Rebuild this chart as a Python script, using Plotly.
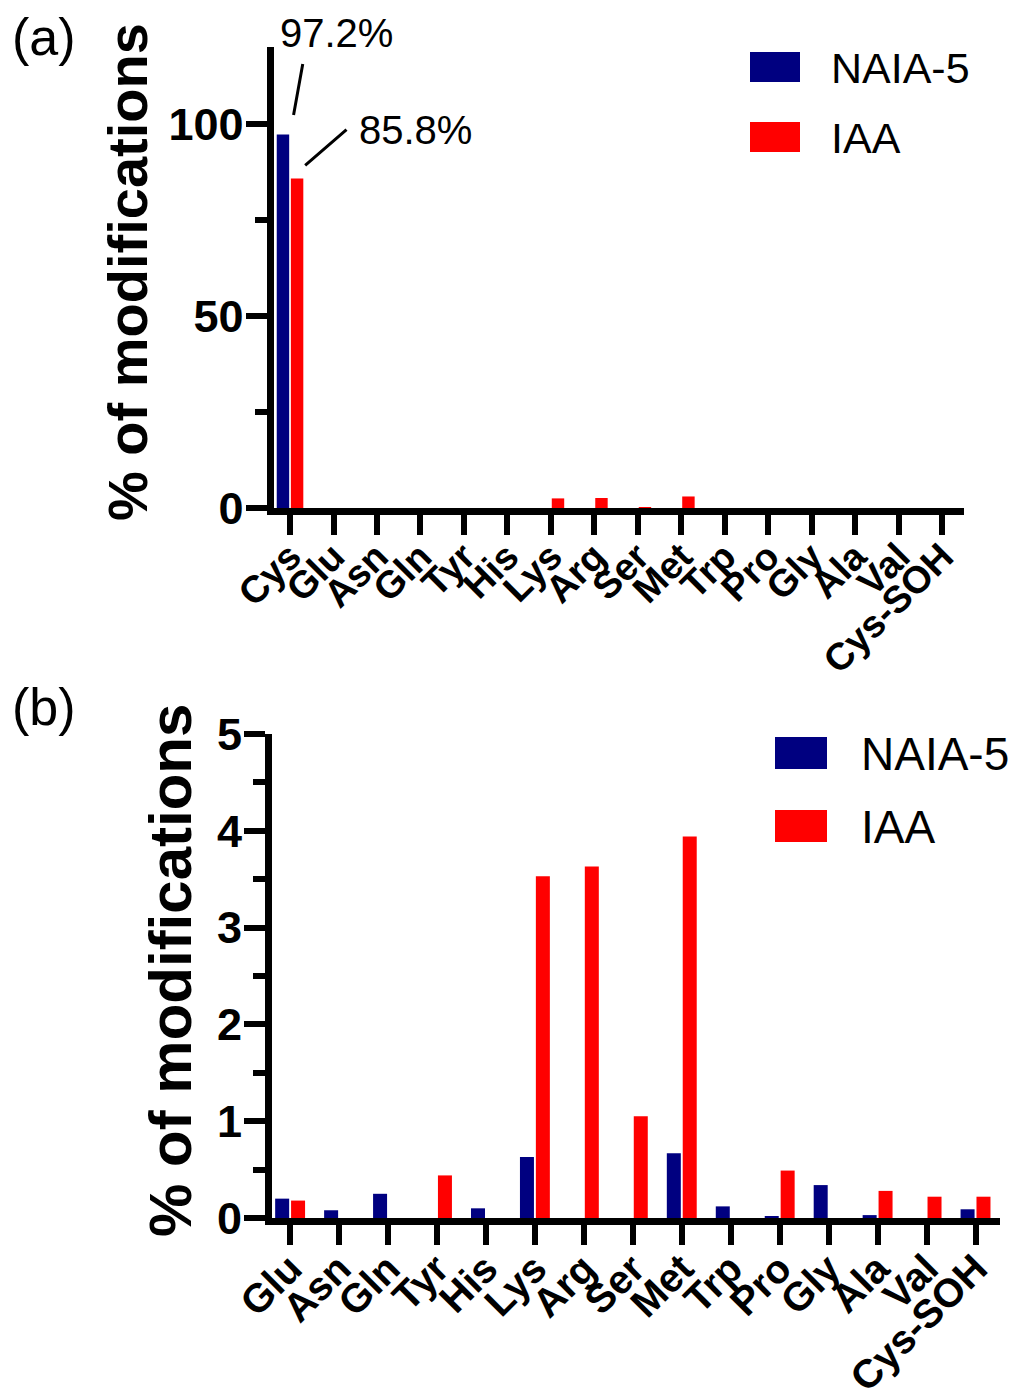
import plotly.graph_objects as go

# ---------------- data ----------------
cats_a = ["Cys", "Glu", "Asn", "Gln", "Tyr", "His", "Lys", "Arg", "Ser", "Met",
          "Trp", "Pro", "Gly", "Ala", "Val", "Cys-SOH"]
naia_a = [97.2, 0, 0, 0, 0, 0, 0, 0, 0, 0, 0, 0, 0, 0, 0, 0]
iaa_a = [85.8, 0, 0, 0, 0, 0, 2.5, 2.6, 0.2, 3.0, 0, 0, 0, 0, 0, 0]

cats_b = ["Glu", "Asn", "Gln", "Tyr", "His", "Lys", "Arg", "Ser", "Met",
          "Trp", "Pro", "Gly", "Ala", "Val", "Cys-SOH"]
naia_b = [0.20, 0.08, 0.25, 0, 0.10, 0.63, 0, 0, 0.67, 0.12, 0.02, 0.34, 0.03, 0, 0.09]
iaa_b = [0.18, 0, 0, 0.44, 0, 3.53, 3.63, 1.05, 3.94, 0, 0.49, 0, 0.28, 0.22, 0.22]

series_names = ["NAIA-5", "IAA"]
colors = ["#000080", "#FF0000"]
label_a = ["97.2%", "85.8%"]

W, H = 1013, 1398
FONT = "Liberation Sans, Arial, sans-serif"


def px(x):
    return x / W


def py(y):
    return 1 - y / H


fig = go.Figure()
fig.add_trace(go.Bar(x=cats_a, y=naia_a, name=series_names[0], marker_color=colors[0],
                     marker_line_width=0, xaxis="x", yaxis="y"))
fig.add_trace(go.Bar(x=cats_a, y=iaa_a, name=series_names[1], marker_color=colors[1],
                     marker_line_width=0, xaxis="x", yaxis="y"))
fig.add_trace(go.Bar(x=cats_b, y=naia_b, name=series_names[0], marker_color=colors[0],
                     marker_line_width=0, xaxis="x2", yaxis="y2"))
fig.add_trace(go.Bar(x=cats_b, y=iaa_b, name=series_names[1], marker_color=colors[1],
                     marker_line_width=0, xaxis="x2", yaxis="y2"))

common_axis = dict(showline=True, linecolor="black", linewidth=7, ticks="outside",
                   tickcolor="black", tickwidth=6, showgrid=False, zeroline=False,
                   automargin=False)

xcommon = dict(common_axis, ticklen=20, tickangle=-45, ticklabelstandoff=-16)
ycommon = dict(common_axis, ticklen=21, ticklabelstandoff=-7,
               tickfont=dict(family=FONT, size=45, color="black", weight="bold"))

fig.update_layout(
    width=W, height=H,
    margin=dict(l=0, r=0, t=0, b=0, autoexpand=False),
    paper_bgcolor="white", plot_bgcolor="white",
    showlegend=False,
    barmode="group", bargap=0.35, bargroupgap=0.12,
    xaxis=dict(xcommon, domain=[px(273.5), px(964)], range=[-0.38, 15.5],
               anchor="y", type="category",
               tickmode="array", tickvals=cats_a, ticktext=cats_a,
               tickfont=dict(family=FONT, size=38, color="black", weight="bold")),
    yaxis=dict(ycommon, domain=[py(508), py(47)], range=[0, 120], anchor="x",
               tickvals=[0, 50, 100],
               minor=dict(tickvals=[25, 75], ticks="outside", ticklen=12,
                          tickwidth=6, tickcolor="black")),
    xaxis2=dict(xcommon, domain=[px(272), px(1000)], range=[-0.37, 14.5],
                anchor="y2", type="category",
                tickmode="array", tickvals=cats_b, ticktext=cats_b,
                tickfont=dict(family=FONT, size=40, color="black", weight="bold")),
    yaxis2=dict(ycommon, domain=[py(1218), py(734)], range=[0, 5], anchor="x2",
                tickvals=[0, 1, 2, 3, 4, 5],
                minor=dict(tickvals=[0.5, 1.5, 2.5, 3.5, 4.5], ticks="outside",
                           ticklen=12, tickwidth=6, tickcolor="black")),
)

ann = []
shapes = []


def paper_text(text, x, y, size, bold=False, angle=0, xanchor="center"):
    f = dict(family=FONT, size=size, color="black")
    if bold:
        f["weight"] = "bold"
    return dict(text=text, x=px(x), y=py(y), xref="paper", yref="paper",
                xanchor=xanchor, yanchor="middle", showarrow=False,
                textangle=angle, font=f)


# panel labels
ann.append(paper_text("(a)", 44, 37, 52))
ann.append(paper_text("(b)", 44, 707, 52))

# axis titles
ann.append(paper_text("% of modifications", 128, 272, 56, bold=True, angle=-90))
ann.append(paper_text("% of modifications", 170, 971, 60, bold=True, angle=-90))

# value labels with leader lines (panel a)
ann.append(dict(x=cats_a[0], y=naia_a[0], xref="x", yref="y", text="",
                showarrow=True, arrowhead=0, arrowwidth=3, arrowcolor="black",
                ax=13, ay=-72, axref="pixel", ayref="pixel", standoff=20))
ann.append(dict(x=cats_a[0], y=naia_a[0], xref="x", yref="y", text=label_a[0],
                showarrow=False, xshift=46, yshift=102, xanchor="center", yanchor="middle",
                font=dict(family=FONT, size=40, color="black")))
ann.append(dict(x=cats_a[0], y=iaa_a[0], xref="x", yref="y", text="",
                showarrow=True, arrowhead=0, arrowwidth=3, arrowcolor="black",
                ax=58, ay=-50, axref="pixel", ayref="pixel", standoff=20))
ann.append(dict(x=cats_a[0], y=iaa_a[0], xref="x", yref="y", text=label_a[1],
                showarrow=False, xshift=125, yshift=48, xanchor="center", yanchor="middle",
                font=dict(family=FONT, size=40, color="black")))

# legends (custom, large swatches)
legend_specs = [
    # (swatch x0, x1, first swatch y0, y1, row step, text x, font size)
    (750, 800, 52, 82, 70, 829, 43),
    (775, 827, 737, 769, 73, 859, 46),
]
for (x0, x1, y0, y1, step, tx, fs) in legend_specs:
    for i, (name, col) in enumerate(zip(series_names, colors)):
        yy0 = y0 + i * step
        yy1 = y1 + i * step
        shapes.append(dict(type="rect", xref="paper", yref="paper",
                           x0=px(x0), x1=px(x1), y0=py(yy1), y1=py(yy0),
                           fillcolor=col, line=dict(width=0)))
        ann.append(paper_text(name, tx, (yy0 + yy1) / 2 + 1, fs, xanchor="left"))

fig.update_layout(annotations=ann, shapes=shapes)
fig.write_html("out.html")
